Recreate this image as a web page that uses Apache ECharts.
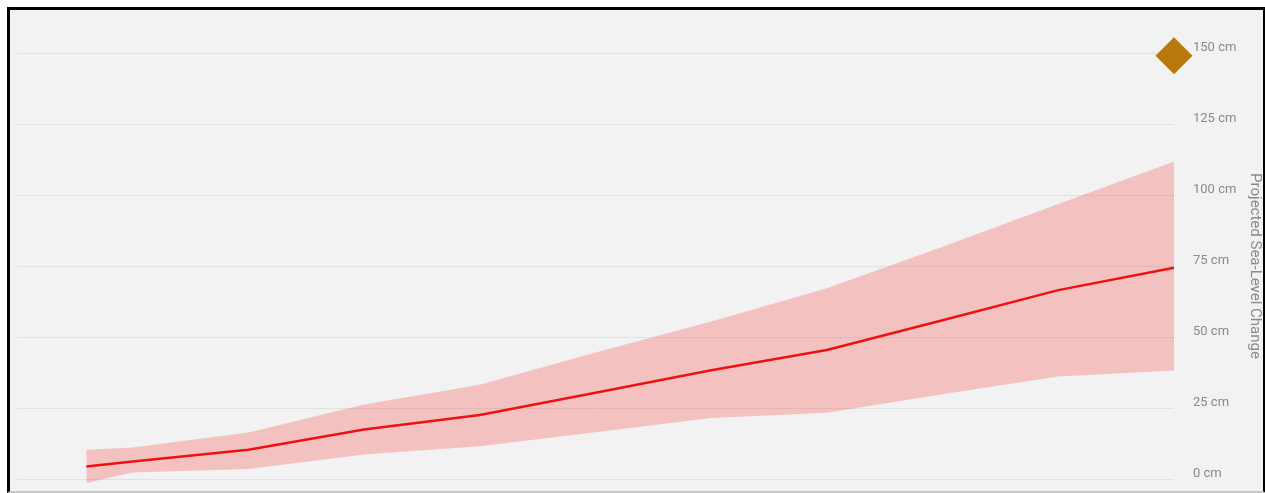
<!DOCTYPE html>
<html>
<head>
<meta charset="utf-8">
<script src="https://cdn.jsdelivr.net/npm/echarts@6/dist/echarts.min.js"></script>
<style>
  html, body { margin: 0; padding: 0; background: #ffffff; width: 1265px; height: 493px; overflow: hidden; }
  #frame { position: absolute; left: 7px; top: 7px; width: 1253px; height: 481px;
           border-left: 3px solid #000; border-top: 3px solid #000; border-right: 3px solid #000;
           border-bottom: 2px solid #c6c6c6; background: #f2f2f2; }
  #chart { position: absolute; left: 0; top: 0; width: 1265px; height: 493px; }
</style>
</head>
<body>
<div id="frame"></div>
<div id="chart"></div>
<script>
// Years of projection
const years = [2006, 2010, 2020, 2030, 2040, 2050, 2060, 2070, 2080, 2090, 2100];
// Central projection (cm)
const median = [4.4, 6.2, 10.3, 17.4, 22.5, 30.4, 38.3, 45.4, 55.9, 66.5, 74.4];
// Likely range, upper and lower bounds (cm)
const upper = [10.3, 11.1, 16.4, 26.2, 33.2, 44.5, 55.5, 67.2, 81.8, 96.8, 111.8];
const lower = [-1.4, 2.3, 3.5, 8.6, 11.5, 16.5, 21.5, 23.3, 29.8, 36.1, 38.2];
// High-end marker
const highMarker = [[2100, 149]];
// Y tick labels
const yTicks = [0, 25, 50, 75, 100, 125, 150];

const bandRows = years.map((y, i) => [y, lower[i], upper[i]]);
const medianPts = years.map((y, i) => [y, median[i]]);

const chart = echarts.init(document.getElementById('chart'));
chart.setOption({
  backgroundColor: 'transparent',
  animation: false,
  grid: { left: 17, right: 91, top: 53, bottom: 14, containLabel: false, outerBoundsMode: 'none' },
  xAxis: {
    type: 'value', min: 2000, max: 2100,
    show: false
  },
  yAxis: {
    type: 'value', position: 'right',
    min: yTicks[0], max: yTicks[yTicks.length - 1], interval: 25,
    axisLine: { show: false }, axisTick: { show: false },
    splitLine: { lineStyle: { color: '#e1e1e1', width: 1 } },
    axisLabel: {
      margin: 19, color: '#8a8a8a', fontSize: 13, fontFamily: 'Roboto, Arial, sans-serif',
      verticalAlign: 'bottom', lineHeight: 11,
      formatter: v => v + ' cm'
    },
    name: 'Projected Sea-Level Change',
    nameLocation: 'middle', nameRotate: -90, nameGap: 68,
    nameTextStyle: { color: '#8a8a8a', fontSize: 15, fontFamily: 'Roboto, Arial, sans-serif' }
  },
  series: [
    {
      type: 'custom',
      data: bandRows,
      encode: { x: 0, y: [1, 2] },
      silent: true,
      clip: false,
      renderItem: function (params, api) {
        if (params.dataIndex !== 0) return null;
        const top = bandRows.map(r => api.coord([r[0], r[2]]));
        const bot = bandRows.map(r => api.coord([r[0], r[1]])).reverse();
        return {
          type: 'polygon',
          shape: { points: top.concat(bot) },
          style: { fill: 'rgba(255,0,0,0.2)' }
        };
      }
    },
    {
      type: 'line', data: medianPts, symbol: 'none',
      lineStyle: { color: '#ee1111', width: 2.5 }
    },
    {
      type: 'scatter', data: highMarker, symbol: 'diamond', symbolSize: [37, 37],
      itemStyle: { color: '#b8780a', opacity: 1 }, clip: false
    }
  ]
});
</script>
</body>
</html>
